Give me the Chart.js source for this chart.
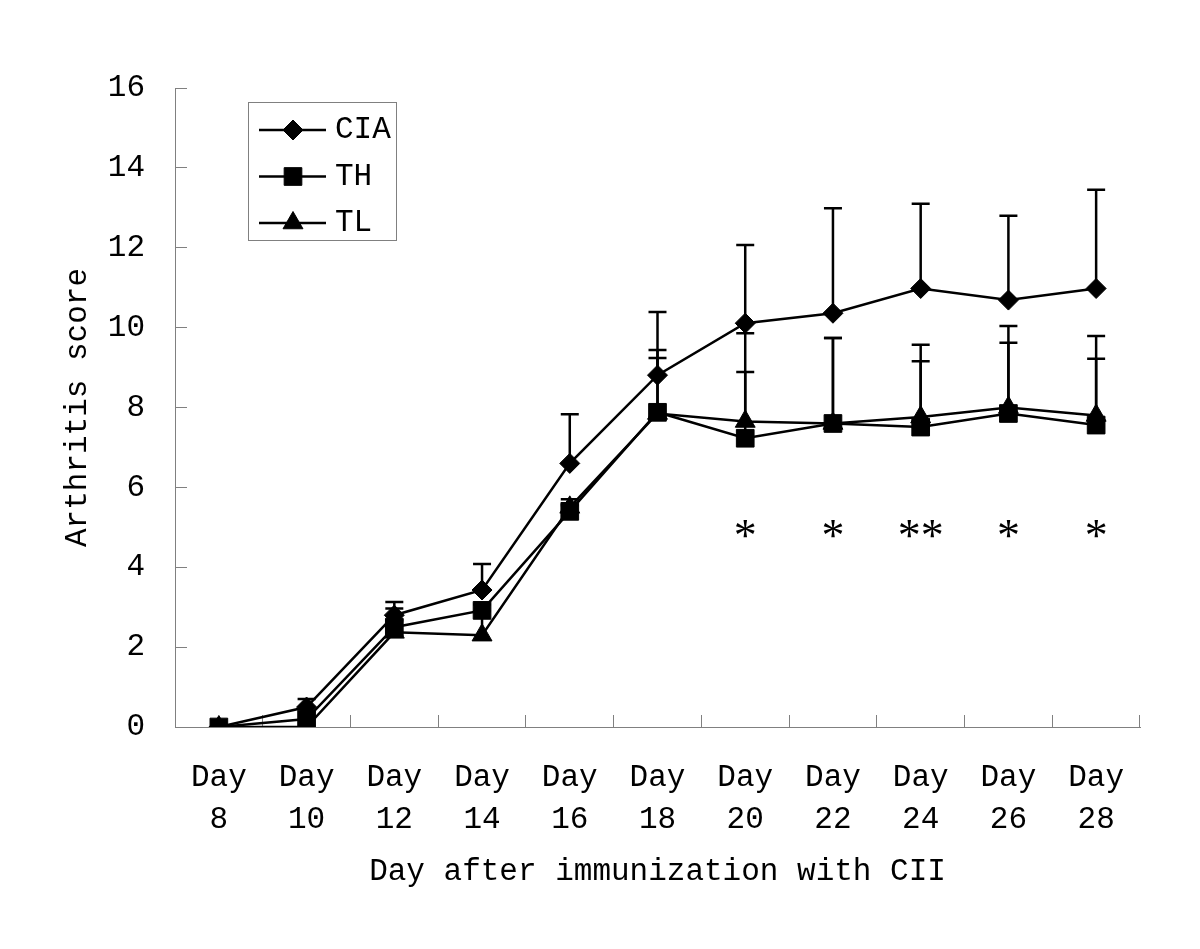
<!DOCTYPE html>
<html>
<head>
<meta charset="utf-8">
<title>Arthritis score</title>
<script src="https://cdn.jsdelivr.net/npm/chart.js@4.4.1/dist/chart.umd.min.js"></script>
<style>
  body { margin: 0; background: #fff; }
  #wrap { width: 1200px; height: 949px; position: relative; }
</style>
</head>
<body>
<div id="wrap"><canvas id="myChart"></canvas></div>
<script>
// Dữ liệu
const days = ['Day 8', 'Day 10', 'Day 12', 'Day 14', 'Day 16', 'Day 18', 'Day 20', 'Day 22', 'Day 24', 'Day 26', 'Day 28'];

const ciaMean = [0, 0.5, 2.8, 3.43, 6.6, 8.81, 10.11, 10.36, 10.98, 10.69, 10.98];
const ciaSd   = [0, 0.2, 0.33, 0.65, 1.23, 1.58, 1.96, 2.63, 2.12, 2.11, 2.47];

const thMean = [0, 0.2, 2.5, 2.92, 5.4, 7.88, 7.23, 7.6, 7.51, 7.85, 7.56];
const thSd   = [0, 0, 0.47, 0.15, 0.15, 1.56, 2.63, 2.14, 1.65, 1.77, 1.66];

const tlMean = [0, 0, 2.37, 2.3, 5.5, 7.85, 7.65, 7.6, 7.76, 8.0, 7.8];
const tlSd   = [0, 0, 0.3, 0.6, 0.2, 1.39, 1.24, 2.14, 1.81, 2.04, 1.99];

// Dấu sao (khác biệt có ý nghĩa)
const sigMarks = ['', '', '', '', '', '', '*', '*', '**', '*', '*'];
const sigLevel = 4.95;

const yTicks = [0, 2, 4, 6, 8, 10, 12, 14, 16];

const FONT = "'Liberation Mono', 'DejaVu Sans Mono', monospace";
const STAR_FONT = "'Liberation Serif', 'DejaVu Serif', serif";
const AXIS_GRAY = '#808080';

// Vẽ thanh sai số (chỉ phía trên)
const errorBars = {
  id: 'errorBars',
  beforeDatasetsDraw(chart) {
    const ctx = chart.ctx;
    const y = chart.scales.y;
    ctx.save();
    ctx.strokeStyle = '#000';
    ctx.lineWidth = 2.5;
    chart.data.datasets.forEach((ds, i) => {
      const meta = chart.getDatasetMeta(i);
      meta.data.forEach((pt, j) => {
        const sd = ds.sd[j];
        if (!sd) return;
        const yTop = y.getPixelForValue(ds.data[j] + sd);
        ctx.beginPath();
        ctx.moveTo(pt.x, pt.y);
        ctx.lineTo(pt.x, yTop);
        ctx.moveTo(pt.x - 9, yTop);
        ctx.lineTo(pt.x + 9, yTop);
        ctx.stroke();
      });
    });
    ctx.restore();
  }
};

// Dấu sao
const sigStars = {
  id: 'sigStars',
  afterDatasetsDraw(chart) {
    const ctx = chart.ctx;
    const x = chart.scales.x, y = chart.scales.y;
    ctx.save();
    ctx.fillStyle = '#000';
    ctx.font = '46px ' + STAR_FONT;
    ctx.textAlign = 'center';
    ctx.textBaseline = 'alphabetic';
    sigMarks.forEach((s, i) => {
      if (!s) return;
      const m = ctx.measureText(s);
      const cy = y.getPixelForValue(sigLevel) + (m.actualBoundingBoxAscent - m.actualBoundingBoxDescent) / 2;
      ctx.fillText(s, x.getPixelForValue(i), cy);
    });
    ctx.restore();
  }
};

// Chú giải trong khung
const boxLegend = {
  id: 'boxLegend',
  afterDraw(chart) {
    const ctx = chart.ctx;
    ctx.save();
    ctx.strokeStyle = AXIS_GRAY;
    ctx.lineWidth = 1;
    ctx.strokeRect(248.5, 102.5, 148, 138);
    chart.data.datasets.forEach((ds, i) => {
      const cy = 130 + i * 46.5;
      ctx.strokeStyle = '#000';
      ctx.lineWidth = 2.5;
      ctx.beginPath();
      ctx.moveTo(259, cy);
      ctx.lineTo(326, cy);
      ctx.stroke();
      ctx.fillStyle = '#000';
      ctx.lineWidth = 1;
      Chart.helpers.drawPoint(ctx, {pointStyle: ds.pointStyle, radius: ds.pointRadius, rotation: 0, borderWidth: 1}, 293, cy);
      ctx.font = '31px ' + FONT;
      ctx.textAlign = 'left';
      ctx.textBaseline = 'middle';
      ctx.fillText(ds.label, 335, cy);
    });
    ctx.restore();
  }
};

function makeSeries(label, data, sd, style, radius) {
  return {
    label: label,
    data: data,
    sd: sd,
    borderColor: '#000',
    backgroundColor: '#000',
    borderWidth: 2.5,
    tension: 0,
    pointStyle: style,
    pointRadius: radius,
    pointBackgroundColor: '#000',
    pointBorderColor: '#000',
    pointBorderWidth: 1
  };
}

const ctx = document.getElementById('myChart').getContext('2d');
new Chart(ctx, {
  type: 'line',
  data: {
    labels: days,
    datasets: [
      makeSeries('CIA', ciaMean, ciaSd, 'rectRot', 10),
      makeSeries('TH', thMean, thSd, 'rect', 12.5),
      makeSeries('TL', tlMean, tlSd, 'triangle', 11.5)
    ]
  },
  options: {
    responsive: true,
    maintainAspectRatio: false,
    animation: false,
    layout: { padding: { top: 88, right: 60, left: 0, bottom: 0 } },
    plugins: { legend: { display: false }, tooltip: { enabled: false } },
    scales: {
      x: {
        type: 'category',
        offset: true,
        afterFit: (s) => { s.height = 222; },
        border: { color: AXIS_GRAY, width: 1 },
        grid: { offset: true, drawOnChartArea: false, tickLength: -12, color: AXIS_GRAY, lineWidth: 1 },
        ticks: {
          color: '#000',
          padding: 42,
          maxRotation: 0,
          autoSkip: false,
          font: { family: FONT, size: 31, lineHeight: 1.355 },
          callback: function (v) { return this.getLabelForValue(v).split(' '); }
        },
        title: {
          display: true,
          text: 'Day after immunization with CII',
          color: '#000',
          font: { family: FONT, size: 31, lineHeight: 1.2 },
          padding: { top: 0, bottom: 59 }
        }
      },
      y: {
        min: 0,
        max: 16,
        afterFit: (s) => { s.width = 175; },
        afterBuildTicks: (s) => { s.ticks = yTicks.map(v => ({ value: v })); },
        border: { color: AXIS_GRAY, width: 1 },
        grid: { drawOnChartArea: false, tickLength: -12, color: AXIS_GRAY, lineWidth: 1 },
        ticks: {
          color: '#000',
          padding: 42,
          font: { family: FONT, size: 31 }
        },
        title: {
          display: true,
          text: 'Arthritis score',
          color: '#000',
          font: { family: FONT, size: 31, lineHeight: 1.2 },
          padding: { top: 59, bottom: 0 }
        }
      }
    }
  },
  plugins: [errorBars, sigStars, boxLegend]
});
</script>
</body>
</html>
